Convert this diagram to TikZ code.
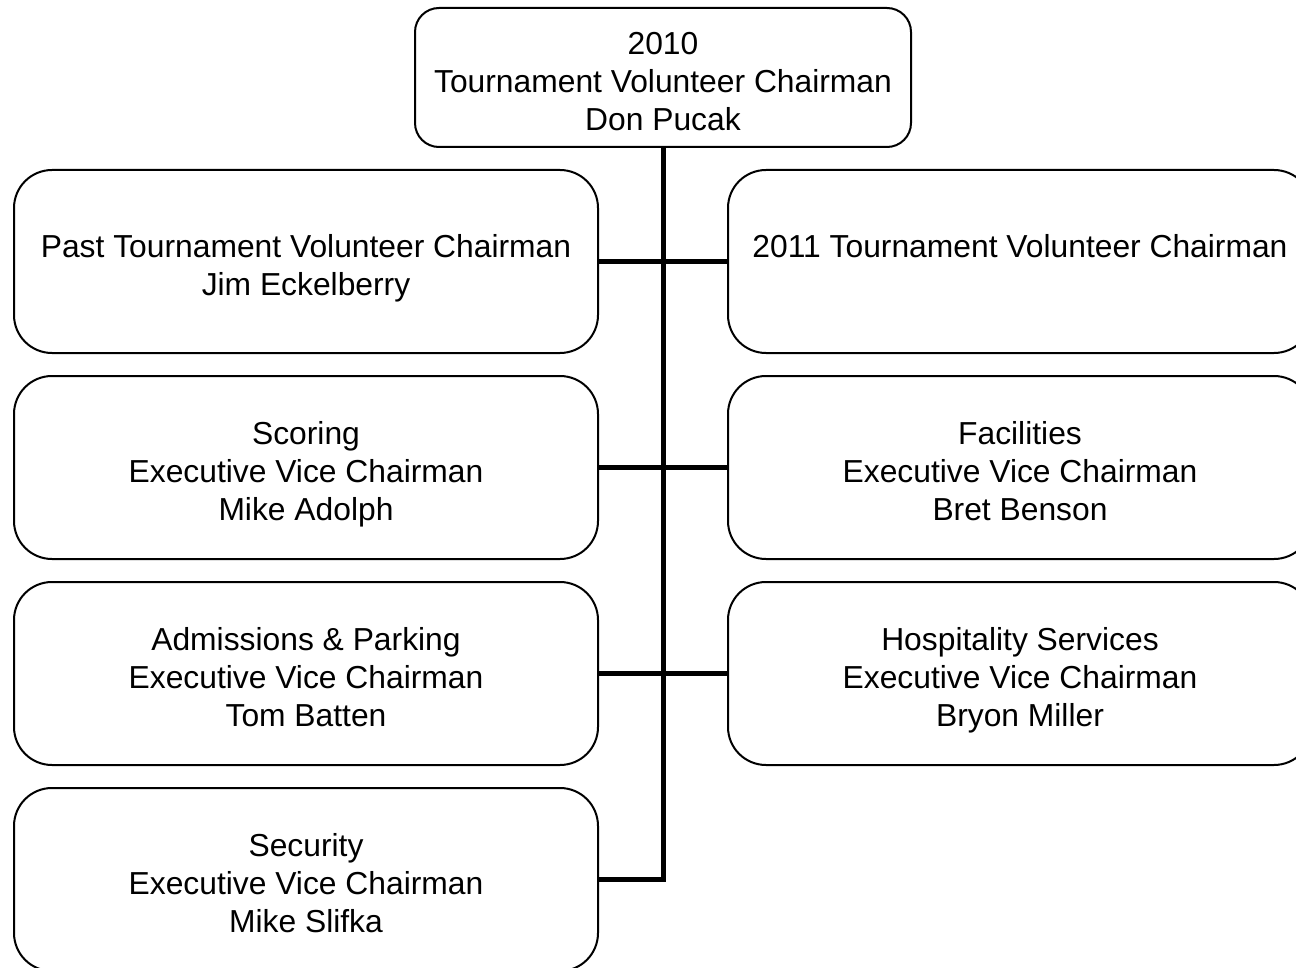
\documentclass[tikz,border=0pt]{standalone}
\usepackage{fontspec}
\setmainfont{Liberation Sans}
\usetikzlibrary{positioning}

% even out the first and last lines
\newcommand{\up}{\rule{0pt}{18pt}}
\newcommand{\dn}{\rule[-3.4pt]{0pt}{3.4pt}}

\begin{document}
\begin{tikzpicture}[font=\fontsize{15.9pt}{19pt}\selectfont,node distance=10.5pt,line width=1pt]

		\tikzset{node top/.style={draw, rounded corners=12pt,
				align=center, inner sep=0pt,
				minimum width=248pt, minimum height=69.5pt}}
		\tikzset{node unit/.style={node top, rounded corners=19pt,
				minimum width=292pt, minimum height=91.5pt}}

	\useasboundingbox (0,0) rectangle (648pt,-484pt);
	\clip (0,0) rectangle (648pt,-484pt);

	\node[node top] (Chair) at (331.5pt,-38.75pt) {\up 2010\\Tournament Volunteer Chairman\\Don Pucak\dn};

	\node[node unit] (Past) at (153pt,-130.75pt) {\up Past Tournament Volunteer Chairman\\Jim Eckelberry\dn};
	\node[node unit, below=of Past] (Scoring) {\up Scoring\\Executive Vice Chairman\\Mike Adolph\dn};
	\node[node unit, below=of Scoring] (Admissions) {\up Admissions \& Parking\\Executive Vice Chairman\\Tom Batten\dn};
	\node[node unit, below=of Admissions] (Security) {\up Security\\Executive Vice Chairman\\Mike Slifka\dn};

	\node[node unit, right=64pt of Past] (Next) {\up 2011 Tournament Volunteer Chairman\\~\dn};
	\node[node unit, right=64pt of Scoring] (Facilities) {\up Facilities\\Executive Vice Chairman\\Bret Benson\dn};
	\node[node unit, right=64pt of Admissions] (Hospitality) {\up Hospitality Services\\Executive Vice Chairman\\Bryon Miller\dn};

	\draw[line width=2.5pt]
	(Chair.south) |- (Security.east)
	(Past.east) -- (Next.west)
	(Scoring.east) -- (Facilities.west)
	(Admissions.east) -- (Hospitality.west);
	\end{tikzpicture}
\end{document}
